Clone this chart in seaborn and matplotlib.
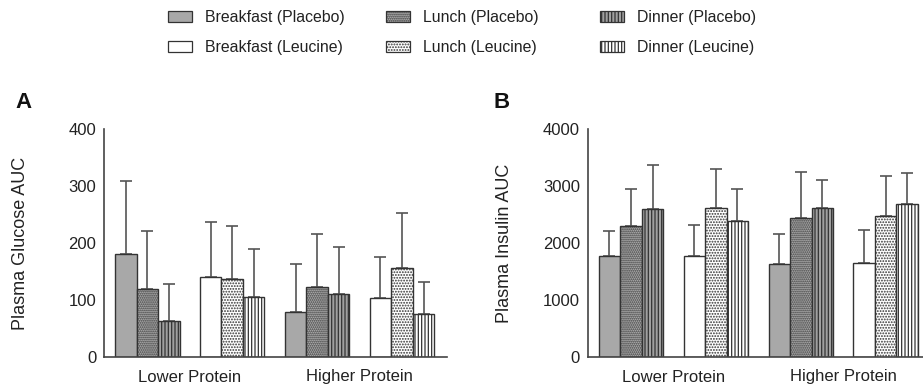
"""
Plasma glucose / insulin AUC per meal, placebo vs leucine, two protein levels.
"""
import matplotlib
matplotlib.use("Agg")
import matplotlib.pyplot as plt
from matplotlib.patches import Patch
import pandas as pd
import seaborn as sns

# cluster order: Lower placebo, Lower leucine, Higher placebo, Higher leucine
clusters = ["Lower Placebo", "Lower Leucine", "Higher Placebo", "Higher Leucine"]
meals = ["Breakfast", "Lunch", "Dinner"]
protein_labels = ["Lower Protein", "Higher Protein"]

glucose_breakfast = [181, 141, 79, 104]
glucose_lunch = [120, 136, 123, 157]
glucose_dinner = [64, 106, 110, 76]
glucose_breakfast_sd = [128, 95, 85, 71]
glucose_lunch_sd = [101, 94, 92, 95]
glucose_dinner_sd = [64, 83, 83, 55]

insulin_breakfast = [1765, 1765, 1640, 1652]
insulin_lunch = [2300, 2621, 2440, 2481]
insulin_dinner = [2600, 2385, 2610, 2686]
insulin_breakfast_sd = [445, 555, 514, 578]
insulin_lunch_sd = [645, 683, 812, 695]
insulin_dinner_sd = [760, 563, 502, 548]

glucose_ticks = [0, 100, 200, 300, 400]
insulin_ticks = [0, 1000, 2000, 3000, 4000]

# styles per (meal, treatment)
styles = {
    ("Breakfast", "Placebo"): dict(facecolor="#a8a8a8", hatch=None),
    ("Lunch", "Placebo"): dict(facecolor="#b4b4b4", hatch="........"),
    ("Dinner", "Placebo"): dict(facecolor="#a0a0a0", hatch="|||||"),
    ("Breakfast", "Leucine"): dict(facecolor="white", hatch=None),
    ("Lunch", "Leucine"): dict(facecolor="white", hatch="......"),
    ("Dinner", "Leucine"): dict(facecolor="white", hatch="|||||"),
}
EDGE = "#333333"
TEXT = "#222222"


def make_frame(b, l, d, b_sd, l_sd, d_sd):
    rows = []
    for meal, vals, sds in zip(meals, [b, l, d], [b_sd, l_sd, d_sd]):
        for c, v, s in zip(clusters, vals, sds):
            rows.append({"cluster": c, "meal": meal, "value": v, "sd": s})
    return pd.DataFrame(rows)


def draw_panel(ax, df, ylabel, ticks):
    sns.barplot(data=df, x="cluster", y="value", hue="meal", order=clusters,
                hue_order=meals, width=0.76, gap=0, errorbar=None,
                legend=False, ax=ax)
    for j, meal in enumerate(meals):
        sub = df[df["meal"] == meal].set_index("cluster")
        for i, bar in enumerate(ax.containers[j]):
            treat = "Placebo" if i % 2 == 0 else "Leucine"
            st = styles[(meal, treat)]
            bar.set_facecolor(st["facecolor"])
            bar.set_edgecolor(EDGE)
            bar.set_linewidth(1.0)
            bar.set_hatch(st["hatch"])
            bar.set_zorder(2)
            xc = bar.get_x() + bar.get_width() / 2
            ax.errorbar(xc, bar.get_height(),
                        yerr=[[0], [sub.loc[clusters[i], "sd"]]],
                        fmt="none", ecolor="#555555", elinewidth=1.2,
                        capsize=4, capthick=1.2, zorder=1)
    ax.set_xlim(-0.51, 3.53)
    ax.set_ylim(ticks[0], ticks[-1])
    ax.set_yticks(ticks)
    ax.set_xticks([0.5, 2.5])
    ax.set_xticklabels(protein_labels)
    ax.set_xlabel("")
    ax.set_ylabel(ylabel, fontsize=13, color=TEXT)
    ax.yaxis.set_label_coords(-0.218, 0.5)
    ax.tick_params(axis="x", length=0, pad=9, labelsize=12, labelcolor=TEXT)
    ax.tick_params(axis="y", length=4.5, width=1.1, pad=1, labelsize=12,
                   labelcolor=TEXT, color="#444444")
    sns.despine(ax=ax)
    for sp in ["left", "bottom"]:
        ax.spines[sp].set_color("#444444")
        ax.spines[sp].set_linewidth(1.2)
    ax.patch.set_alpha(0)


sns.set_style("white")
plt.rcParams["font.family"] = ["Liberation Sans", "DejaVu Sans"]
plt.rcParams["hatch.linewidth"] = 0.9

fig = plt.figure(figsize=(9.23, 3.91), dpi=100)
ax_a = fig.add_axes([104 / 923, 34 / 391, 343 / 923, 228 / 391])
ax_b = fig.add_axes([587.7 / 923, 34 / 391, 343 / 923, 228 / 391])

glucose = make_frame(glucose_breakfast, glucose_lunch, glucose_dinner,
                     glucose_breakfast_sd, glucose_lunch_sd, glucose_dinner_sd)
insulin = make_frame(insulin_breakfast, insulin_lunch, insulin_dinner,
                     insulin_breakfast_sd, insulin_lunch_sd, insulin_dinner_sd)

draw_panel(ax_a, glucose, "Plasma Glucose AUC", glucose_ticks)
draw_panel(ax_b, insulin, "Plasma Insulin AUC", insulin_ticks)

fig.text(23 / 923, 1 - 102 / 391, "A", fontsize=16, fontweight="bold",
         ha="center", va="center", color="#111111")
fig.text(502 / 923, 1 - 102 / 391, "B", fontsize=16, fontweight="bold",
         ha="center", va="center", color="#111111")

# legend: one small legend per column, placebo on top, leucine below
legend_x = [168, 386, 600]
for meal, x in zip(meals, legend_x):
    handles = []
    for treat in ["Placebo", "Leucine"]:
        st = styles[(meal, treat)]
        handles.append(Patch(facecolor=st["facecolor"], edgecolor=EDGE,
                             hatch=st["hatch"], linewidth=0.9,
                             label=f"{meal} ({treat})"))
    leg = fig.legend(handles=handles, loc="center left",
                     bbox_to_anchor=(x / 923, 1 - 32.5 / 391),
                     frameon=False, borderpad=0, borderaxespad=0,
                     fontsize=11.4, handlelength=1.52, handleheight=0.7,
                     handletextpad=0.82, labelspacing=0.95)
    for t in leg.get_texts():
        t.set_color(TEXT)

fig.savefig("out.png", dpi=100)
